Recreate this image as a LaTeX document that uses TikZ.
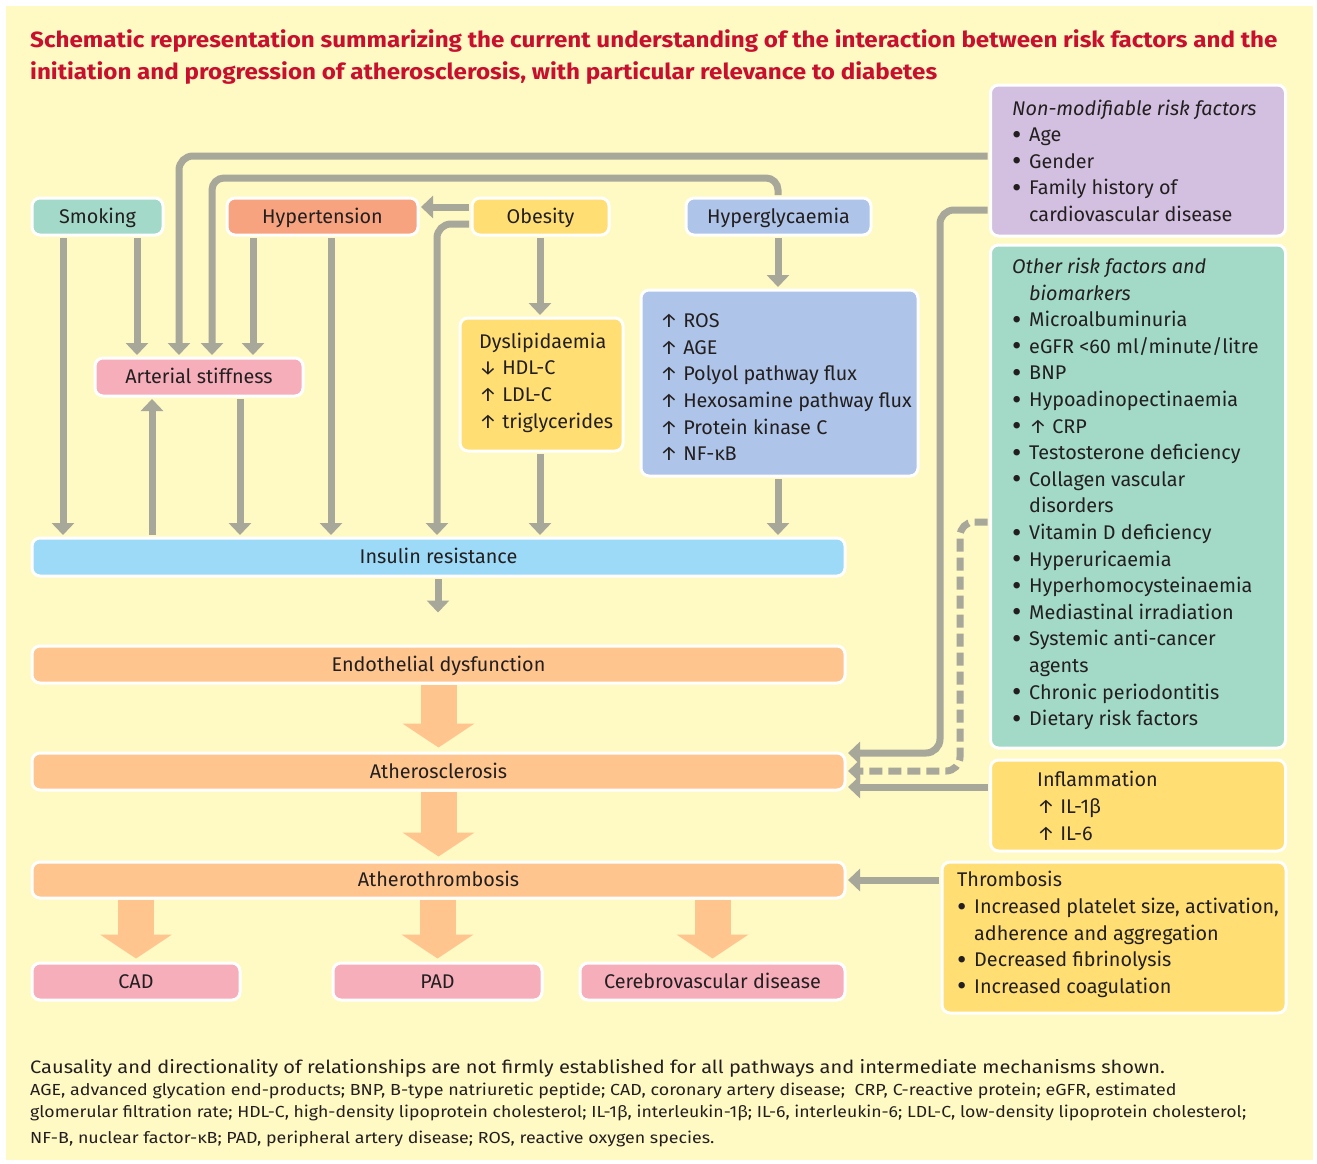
\documentclass[tikz,border=0pt]{standalone}
\usepackage{fontspec}
\setmainfont{Fira Sans}
\usetikzlibrary{arrows.meta}
\definecolor{bgc}{HTML}{FFF9C4}
\definecolor{titlec}{HTML}{C8102E}
\definecolor{txt}{HTML}{231F20}
\definecolor{smkc}{HTML}{A3D9C8}
\definecolor{hypc}{HTML}{F8A37F}
\definecolor{yelc}{HTML}{FFDF74}
\definecolor{bluc}{HTML}{AEC4E8}
\definecolor{pinkc}{HTML}{F7AEBB}
\definecolor{insc}{HTML}{9DDAF8}
\definecolor{orc}{HTML}{FFC58E}
\definecolor{lavc}{HTML}{D3C0E0}
\definecolor{tealc}{HTML}{A2D9C7}
\definecolor{arrc}{HTML}{A7A79A}
\newcommand\bodyf{\fontsize{19.8}{26.6}\selectfont}
\newcommand\bl{\makebox[17pt][l]{\raisebox{-2.6pt}{\scalebox{1.45}{•}}}}
\newcommand\ind{\makebox[17pt][l]{}}
\tikzset{
  bx/.style={draw=white, line width=3pt, rounded corners=8pt, inner sep=0pt},
  lbl/.style={bx, font=\bodyf, text=txt, text height=17.4pt, text depth=3.8pt},
  txtn/.style={anchor=north west, align=left, inner sep=0pt, font=\bodyf, text=txt},
  conn/.style={draw=arrc, line width=7pt, -{Triangle[width=22pt,length=12pt]}, shorten <=1.5pt, shorten >=1.5pt},
  big/.style={draw=orc, line width=36pt, -{Triangle[width=71pt,length=24pt]}},
  foot/.style={anchor=base west, inner sep=0pt, text=txt},
}
\begin{document}
\begin{tikzpicture}[x=1pt,y=-1pt]
\useasboundingbox (0,0) rectangle (1317,1164);
\fill[white] (0,0) rectangle (1317,1164);
\fill[bgc] (6,6) rectangle (1313,1160);
% title
\node[foot, text=titlec, font=\fontsize{22}{31}\selectfont\bfseries] (t1) at (30,48) {\scalebox{1.1}[1]{Schematic representation summarizing the current understanding of the interaction between risk factors and the}};
\node[foot, text=titlec, font=\fontsize{22}{31}\selectfont\bfseries] (t2) at (30,79) {\scalebox{1.1}[1]{initiation and progression of atherosclerosis, with particular relevance to diabetes}};
% top row
\node[lbl, fill=smkc, minimum width=131pt, minimum height=37pt] (smk) at (97.5,216.5) {Smoking};
\node[lbl, fill=hypc, minimum width=191pt, minimum height=37pt] (hyp) at (322.5,216.5) {Hypertension};
\node[lbl, fill=yelc, minimum width=137pt, minimum height=37pt] (obe) at (540.5,216.5) {Obesity};
\node[lbl, fill=bluc, minimum width=185pt, minimum height=37pt] (hgl) at (778.5,216.5) {Hyperglycaemia};
\node[lbl, fill=pinkc, minimum width=208pt, minimum height=38pt] (art) at (199,377) {Arterial stiffness};
% middle boxes
\node[bx, fill=yelc, minimum width=163pt, minimum height=133pt] (dys) at (541.5,384.5) {};
\node[txtn] (dyst) at (479,329.6) {\fontsize{19.8}{26.4}\selectfont\strut Dyslipidaemia\\↓ HDL-C\\↑ LDL-C\\↑ triglycerides};
\node[bx, fill=bluc, minimum width=277pt, minimum height=186pt] (ros) at (779.5,383) {};
\node[txtn] (rost) at (660,309) {\fontsize{19.8}{26.5}\selectfont\strut ↑ ROS\\↑ AGE\\↑ Polyol pathway flux\\↑ Hexosamine pathway flux\\↑ Protein kinase C\\↑ NF-κB};
% wide bars
\node[lbl, fill=insc, minimum width=813pt, minimum height=38pt] (ins) at (438.5,557) {Insulin resistance};
\node[lbl, fill=orc, minimum width=813pt, minimum height=37pt] (endo) at (438.5,664.5) {Endothelial dysfunction};
\node[lbl, fill=orc, minimum width=813pt, minimum height=37pt] (ath) at (438.5,771.5) {Atherosclerosis};
\node[lbl, fill=orc, minimum width=813pt, minimum height=36pt] (atht) at (438.5,880) {Atherothrombosis};
% outcomes
\node[lbl, fill=pinkc, minimum width=208pt, minimum height=37pt] (cad) at (136,981.5) {CAD};
\node[lbl, fill=pinkc, minimum width=209pt, minimum height=37pt] (pad) at (437.5,981.5) {PAD};
\node[lbl, fill=pinkc, minimum width=265pt, minimum height=37pt] (cer) at (712.5,981.5) {Cerebrovascular disease};
% right column
\node[bx, fill=lavc, minimum width=295pt, minimum height=151pt] (nonmod) at (1138,160.5) {};
\node[txtn] (nonmodt) at (1012,96.3) {\strut\textit{Non-modifiable risk factors}\\\bl Age\\\bl Gender\\\bl Family history of\\\ind cardiovascular disease};
\node[bx, fill=tealc, minimum width=295pt, minimum height=503pt] (other) at (1138,496.5) {};
\node[txtn] (othert) at (1012,254.6) {\strut\textit{Other risk factors and}\\\ind\textit{biomarkers}\\\bl Microalbuminuria\\\bl eGFR <60 ml/minute/litre\\\bl BNP\\\bl Hypoadinopectinaemia\\\bl ↑ CRP\\\bl Testosterone deficiency\\\bl Collagen vascular\\\ind disorders\\\bl Vitamin D deficiency\\\bl Hyperuricaemia\\\bl Hyperhomocysteinaemia\\\bl Mediastinal irradiation\\\bl Systemic anti-cancer\\\ind agents\\\bl Chronic periodontitis\\\bl Dietary risk factors};
\node[bx, fill=yelc, minimum width=295pt, minimum height=91pt] (infl) at (1138,805.5) {};
\node[txtn] (inflt) at (1037,768) {\strut Inflammation\\↑ IL-1β\\↑ IL-6};
\node[bx, fill=yelc, minimum width=344pt, minimum height=151pt] (thr) at (1114,937.5) {};
\node[txtn] (thrt) at (957,868) {\strut Thrombosis\\\bl Increased platelet size, activation,\\\ind adherence and aggregation\\\bl Decreased fibrinolysis\\\bl Increased coagulation};
% connectors, upper
\draw[conn] (smk.south -| 63,0) -- (ins.north -| 63,0);
\draw[conn] (smk.south -| 137,0) -- (art.north -| 137,0);
\draw[conn] (hyp.south -| 253,0) -- (art.north -| 253,0);
\draw[conn] (hyp.south -| 331,0) -- (ins.north -| 331,0);
\draw[conn] (obe.west |- 0,207) -- (hyp.east |- 0,207);
\draw[conn, rounded corners=14pt] (obe.west |- 0,224) -| (ins.north -| 437,0);
\draw[conn] (obe.south -| 540,0) -- (dys.north -| 540,0);
\draw[conn] (dys.south -| 540,0) -- (ins.north -| 540,0);
\draw[conn] (hgl.south -| 778,0) -- (ros.north -| 778,0);
\draw[conn] (ros.south -| 778,0) -- (ins.north -| 778,0);
\draw[conn] (ins.north -| 152,0) -- (art.south -| 152,0);
\draw[conn] (art.south -| 240,0) -- (ins.north -| 240,0);
\draw[conn, rounded corners=14pt] (nonmod.west |- 0,156) -| (art.north -| 179,0);
\draw[conn, rounded corners=12pt] (hgl.north -| 778,0) |- (212,178) -- (art.north -| 212,0);
\coordinate (insend) at (438,614);
\draw[conn] (ins.south -| 438,0) -- (insend);
% big arrows
\draw[big, shorten >=4pt] (endo.south) -- (ath.north);
\draw[big, shorten >=4pt] (ath.south) -- (atht.north);
\draw[big, shorten >=3pt] (atht.south -| cad.north) -- (cad.north);
\draw[big, shorten >=3pt] (atht.south -| pad.north) -- (pad.north);
\draw[big, shorten >=3pt] (atht.south -| cer.north) -- (cer.north);
% right connectors
\draw[conn, rounded corners=14pt] (nonmod.west |- 0,210) -| (940,753) -- (ath.east |- 0,753);
\draw[conn, dash pattern=on 13pt off 6pt, rounded corners=14pt] (other.west |- 0,522) -| (960,771) -- (ath.east |- 0,771);
\draw[conn] (infl.west |- 0,787) -- (ath.east |- 0,787);
\draw[conn] (thr.west |- 0,880) -- (atht.east |- 0,880);
% footnote
\node[foot, font=\fontsize{18}{20}\selectfont] (f1) at (30,1073) {\scalebox{1.113}[1]{Causality and directionality of relationships are not firmly established for all pathways and intermediate mechanisms shown.}};
\node[foot, font=\fontsize{16}{20}\selectfont] (f2) at (30,1095) {\scalebox{1.117}[1]{AGE, advanced glycation end-products; BNP, B-type natriuretic peptide; CAD, coronary artery disease;\ \ CRP, C-reactive protein; eGFR, estimated}};
\node[foot, font=\fontsize{16}{20}\selectfont] (f3) at (30,1117) {\scalebox{1.103}[1]{glomerular filtration rate; HDL-C, high-density lipoprotein cholesterol; IL-1β, interleukin-1β; IL-6, interleukin-6; LDL-C, low-density lipoprotein cholesterol;}};
\node[foot, font=\fontsize{16}{20}\selectfont] (f4) at (30,1143) {\scalebox{1.115}[1]{NF-B, nuclear factor-κB; PAD, peripheral artery disease; ROS, reactive oxygen species.}};
\end{tikzpicture}
\end{document}
